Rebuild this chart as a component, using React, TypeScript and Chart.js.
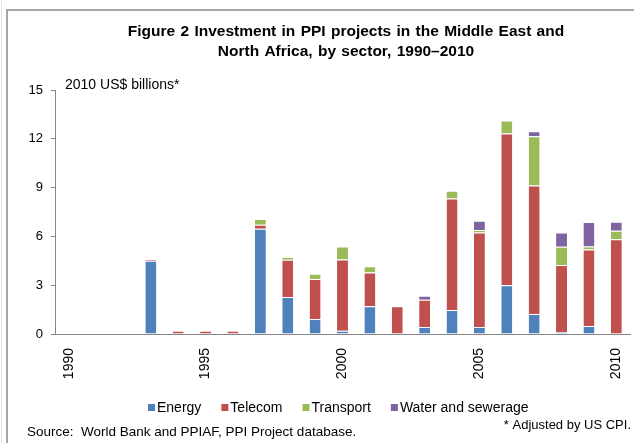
import React, { useEffect, useRef } from "react";
import { Chart, registerables } from "chart.js";
Chart.register(...registerables);

const years = ["1990","1991","1992","1993","1994","1995","1996","1997","1998","1999","2000","2001","2002","2003","2004","2005","2006","2007","2008","2009","2010"];
const energy = [0, 0, 0, 4.5, 0, 0, 0, 6.47, 2.27, 0.92, 0.2, 1.7, 0.03, 0.43, 1.47, 0.43, 2.99, 1.23, 0.12, 0.49, 0.03];
const telecom = [0.03, 0, 0.03, 0.1, 0.2, 0.2, 0.2, 0.25, 2.3, 2.46, 4.38, 2.08, 1.68, 1.68, 6.86, 5.81, 9.33, 7.9, 4.12, 4.71, 5.8];
const transport = [0, 0, 0, 0, 0, 0, 0, 0.35, 0.17, 0.32, 0.8, 0.39, 0, 0, 0.47, 0.16, 0.8, 3.02, 1.12, 0.18, 0.51];
const water = [0, 0, 0, 0, 0, 0, 0, 0, 0, 0, 0, 0, 0, 0.24, 0, 0.56, 0, 0.31, 0.88, 1.5, 0.56];

const seriesNames = ["Energy", "Telecom", "Transport", "Water and sewerage"];
const seriesColors = ["#4F81BD", "#C0504D", "#9BBB59", "#8064A2"];
const yMin = 0;
const yMax = 15;
const yStep = 3;
const titleLines = [
  "Figure 2 Investment in PPI projects in the Middle East and",
  "North Africa, by sector, 1990\u20132010",
];
const unitLabel = "2010 US$ billions*";
const sourceNote = "Source:  World Bank and PPIAF, PPI Project database.";
const cpiNote = "* Adjusted by US CPI.";

const FONT = "'Liberation Sans', Arial, sans-serif";

const decorPlugin = {
  id: "decor",
  afterDraw(chart: any) {
    const ctx = chart.ctx as CanvasRenderingContext2D;
    ctx.save();
    // frame
    ctx.strokeStyle = "#e6e6e6";
    ctx.lineWidth = 1;
    ctx.beginPath();
    ctx.moveTo(1.5, 0);
    ctx.lineTo(1.5, 443);
    ctx.stroke();
    ctx.strokeStyle = "#a6a6a6";
    ctx.lineWidth = 2;
    ctx.beginPath();
    ctx.moveTo(7, 443);
    ctx.lineTo(7, 10);
    ctx.lineTo(634, 10);
    ctx.stroke();

    // title
    ctx.fillStyle = "#000";
    ctx.font = `bold 15.5px ${FONT}`;
    (ctx as any).wordSpacing = "1px";
    ctx.textAlign = "center";
    ctx.textBaseline = "middle";
    ctx.fillText(titleLines[0], 346, 32);
    ctx.fillText(titleLines[1], 346, 52);
    (ctx as any).wordSpacing = "0px";

    // unit label
    ctx.font = `14px ${FONT}`;
    ctx.textAlign = "left";
    ctx.fillText(unitLabel, 65, 85);

    // legend
    ctx.font = `14px ${FONT}`;
    let x = 148;
    const ly = 408;
    chart.data.datasets.forEach((ds: any) => {
      ctx.fillStyle = ds.backgroundColor;
      ctx.fillRect(x, ly - 4, 7, 7);
      ctx.fillStyle = "#000";
      ctx.textAlign = "left";
      ctx.fillText(ds.label, x + 9, ly);
      x += 9 + ctx.measureText(ds.label).width + 20;
    });

    // notes
    ctx.font = `13.5px ${FONT}`;
    ctx.textAlign = "left";
    ctx.fillText(sourceNote, 27, 432);
    ctx.font = `13px ${FONT}`;
    ctx.textAlign = "right";
    ctx.fillText(cpiNote, 631, 425);
    ctx.restore();
  },
};

export default function App() {
  const ref = useRef<HTMLCanvasElement | null>(null);
  useEffect(() => {
    if (!ref.current) return;
    const series = [energy, telecom, transport, water];
    const chart = new Chart(ref.current, {
      type: "bar",
      data: {
        labels: years,
        datasets: series.map((d, i) => ({
          label: seriesNames[i],
          data: d,
          backgroundColor: seriesColors[i],
          borderColor: "#ffffff",
          borderWidth: { top: 1, left: 0, right: 0, bottom: 0 },
          borderSkipped: false as any,
          barPercentage: 0.4,
          categoryPercentage: 1,
        })),
      },
      options: {
        responsive: false,
        animation: false,
        devicePixelRatio: 1,
        layout: { padding: { top: 90, left: 0, right: 4, bottom: 0 } },
        plugins: {
          legend: { display: false },
          title: { display: false },
          tooltip: { enabled: false },
        },
        scales: {
          x: {
            stacked: true,
            grid: { display: false, drawTicks: false },
            border: { display: true, color: "#868686", width: 1 },
            ticks: {
              autoSkip: false,
              maxRotation: 90,
              minRotation: 90,
              padding: 14,
              color: "#000",
              font: { family: FONT, size: 14 },
              callback: (_v: any, i: number) => (Number(years[i]) % 5 === 0 ? years[i] : ""),
            },
            afterFit: (s: any) => {
              s.height = 109;
              s.paddingLeft = 0;
              s.paddingRight = 0;
            },
          },
          y: {
            stacked: true,
            min: yMin,
            max: yMax,
            grid: { drawOnChartArea: false, drawTicks: true, tickLength: 4, color: "#868686" },
            border: { display: true, color: "#868686", width: 1 },
            ticks: {
              stepSize: yStep,
              padding: 8,
              color: "#000",
              font: { family: FONT, size: 13 },
            },
            afterFit: (s: any) => {
              s.width = 55;
              s.paddingTop = 0;
              s.paddingBottom = 0;
            },
          },
        },
      },
      plugins: [decorPlugin],
    });
    return () => chart.destroy();
  }, []);
  return (
    <div style={{ position: "fixed", left: 0, top: 0, width: 634, height: 443, background: "#fff" }}>
      <canvas ref={ref} width={634} height={443} style={{ display: "block" }} />
    </div>
  );
}
